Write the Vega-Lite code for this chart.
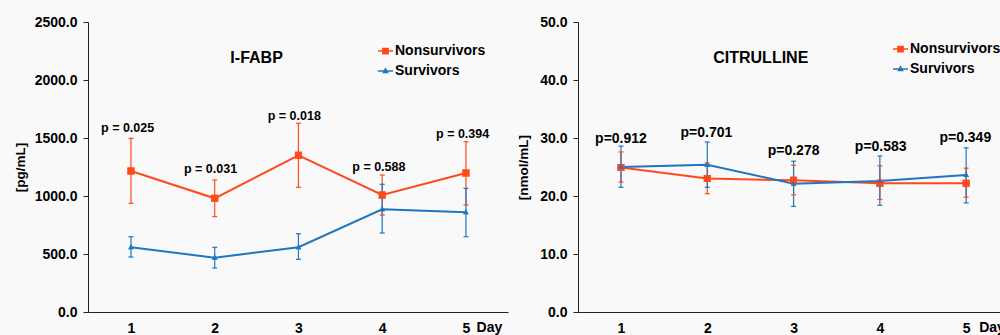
{
  "$schema": "https://vega.github.io/schema/vega-lite/v6.json",
  "background": "#f9f9f9",
  "padding": {"left": 13, "top": 15, "right": 0, "bottom": 0},
  "spacing": 8,
  "config": {
    "view": {"stroke": null},
    "font": "Liberation Sans",
    "axis": {
      "grid": false,
      "labelFont": "Liberation Sans",
      "labelFontWeight": "bold",
      "labelFontSize": 14,
      "labelColor": "#000000",
      "domainColor": "#222222",
      "tickColor": "#222222",
      "titleFont": "Liberation Sans",
      "titleFontWeight": "bold",
      "titleFontSize": 13.5,
      "titleColor": "#000000"
    },
    "legend": {
      "labelFont": "Liberation Sans",
      "labelFontWeight": "bold",
      "labelFontSize": 14,
      "labelColor": "#000000"
    }
  },
  "datasets": {
    "fabp": [
      {"day": 1, "group": "Nonsurvivors", "mean": 1215, "lo": 937, "hi": 1497},
      {"day": 2, "group": "Nonsurvivors", "mean": 980, "lo": 822, "hi": 1138},
      {"day": 3, "group": "Nonsurvivors", "mean": 1351, "lo": 1075, "hi": 1627},
      {"day": 4, "group": "Nonsurvivors", "mean": 1009, "lo": 836, "hi": 1181},
      {"day": 5, "group": "Nonsurvivors", "mean": 1198, "lo": 922, "hi": 1468},
      {"day": 1, "group": "Survivors", "mean": 558, "lo": 474, "hi": 649},
      {"day": 2, "group": "Survivors", "mean": 468, "lo": 379, "hi": 558},
      {"day": 3, "group": "Survivors", "mean": 558, "lo": 454, "hi": 675},
      {"day": 4, "group": "Survivors", "mean": 885, "lo": 681, "hi": 1101},
      {"day": 5, "group": "Survivors", "mean": 859, "lo": 649, "hi": 1066}
    ],
    "cit": [
      {"day": 1, "group": "Nonsurvivors", "mean": 24.9, "lo": 22.4, "hi": 27.6},
      {"day": 2, "group": "Nonsurvivors", "mean": 23.0, "lo": 20.4, "hi": 25.7},
      {"day": 3, "group": "Nonsurvivors", "mean": 22.7, "lo": 20.2, "hi": 25.3},
      {"day": 4, "group": "Nonsurvivors", "mean": 22.2, "lo": 19.4, "hi": 25.2},
      {"day": 5, "group": "Nonsurvivors", "mean": 22.2, "lo": 19.8, "hi": 24.8},
      {"day": 1, "group": "Survivors", "mean": 25.0, "lo": 21.5, "hi": 28.6},
      {"day": 2, "group": "Survivors", "mean": 25.4, "lo": 21.5, "hi": 29.3},
      {"day": 3, "group": "Survivors", "mean": 22.1, "lo": 18.2, "hi": 26.0},
      {"day": 4, "group": "Survivors", "mean": 22.6, "lo": 18.4, "hi": 26.9},
      {"day": 5, "group": "Survivors", "mean": 23.6, "lo": 18.8, "hi": 28.3}
    ],
    "fabp_p": [
      {"day": 0.96, "pos": 1586, "p": "p = 0.025"},
      {"day": 1.95, "pos": 1232, "p": "p = 0.031"},
      {"day": 2.95, "pos": 1689, "p": "p = 0.018"},
      {"day": 3.96, "pos": 1253, "p": "p = 0.588"},
      {"day": 4.96, "pos": 1534, "p": "p = 0.394"}
    ],
    "cit_p": [
      {"day": 1.0, "pos": 29.9, "p": "p=0.912"},
      {"day": 1.99, "pos": 30.9, "p": "p=0.701"},
      {"day": 3.0, "pos": 27.8, "p": "p=0.278"},
      {"day": 4.01, "pos": 28.4, "p": "p=0.583"},
      {"day": 4.99, "pos": 30.0, "p": "p=0.349"}
    ]
  },
  "resolve": {
    "scale": {"color": "independent", "shape": "independent"},
    "legend": {"color": "independent", "shape": "independent"}
  },
  "hconcat": [
    {
      "width": 420,
      "height": 290,
      "layer": [
        {
          "data": {"name": "fabp"},
          "mark": {"type": "point", "filled": true, "size": 400, "opacity": 1, "strokeWidth": 0},
          "encoding": {
            "x": {"field": "day", "type": "quantitative", "scale": {"domain": [0.487, 5.502], "nice": false, "zero": false},
                  "axis": {"values": [1, 2, 3, 4, 5], "format": "d", "ticks": false, "title": null, "labelPadding": 9}},
            "y": {"field": "mean", "type": "quantitative", "scale": {"domain": [0, 2500], "nice": false},
                  "axis": {"values": [0, 500, 1000, 1500, 2000, 2500], "format": ".1f", "tickSize": 5, "labelPadding": 6, "title": "[pg/mL]", "titleX": -61}},
            "color": {"field": "group", "type": "nominal",
                      "scale": {"domain": ["Nonsurvivors", "Survivors"], "range": ["#FF4A1C", "#1F77C0"]},
                      "legend": {"orient": "none", "legendX": 289, "legendY": 20.5, "title": null, "symbolSize": 225,
                                 "symbolStrokeWidth": 1.5, "labelOffset": 1, "rowPadding": 4, "padding": 0,
                                 "encode": {"symbols": {"update": {"stroke": {"signal": "datum.value === 'Nonsurvivors' ? '#FF4A1C' : '#1F77C0'"}, "strokeWidth": {"value": 1.5}}}}}},
            "shape": {"field": "group", "type": "nominal",
                      "scale": {"domain": ["Nonsurvivors", "Survivors"], "range": ["M-1,0H1M-0.35,-0.35H0.35V0.35H-0.35Z", "M-1,0H1M0,-0.3L0.27,0.2H-0.27Z"]},
                      "legend": {"orient": "none", "legendX": 289, "legendY": 20.5, "title": null, "symbolSize": 225,
                                 "symbolStrokeWidth": 1.5, "labelOffset": 1, "rowPadding": 4, "padding": 0,
                                 "encode": {"symbols": {"update": {"stroke": {"signal": "datum.value === 'Nonsurvivors' ? '#FF4A1C' : '#1F77C0'"}, "strokeWidth": {"value": 1.5}}}}}}
          }
        },
        {
          "data": {"name": "fabp"},
          "mark": {"type": "rule", "strokeWidth": 1.2},
          "encoding": {
            "x": {"field": "day", "type": "quantitative"},
            "y": {"field": "lo", "type": "quantitative", "title": "[pg/mL]"},
            "y2": {"field": "hi"},
            "color": {"field": "group", "type": "nominal", "legend": null}
          }
        },
        {
          "data": {"name": "fabp"},
          "mark": {"type": "tick", "orient": "horizontal", "size": 5, "thickness": 1.2, "opacity": 1},
          "encoding": {
            "x": {"field": "day", "type": "quantitative"},
            "y": {"field": "lo", "type": "quantitative", "title": "[pg/mL]"},
            "color": {"field": "group", "type": "nominal", "legend": null}
          }
        },
        {
          "data": {"name": "fabp"},
          "mark": {"type": "tick", "orient": "horizontal", "size": 5, "thickness": 1.2, "opacity": 1},
          "encoding": {
            "x": {"field": "day", "type": "quantitative"},
            "y": {"field": "hi", "type": "quantitative", "title": "[pg/mL]"},
            "color": {"field": "group", "type": "nominal", "legend": null}
          }
        },
        {
          "data": {"name": "fabp"},
          "mark": {"type": "line", "strokeWidth": 2},
          "encoding": {
            "x": {"field": "day", "type": "quantitative"},
            "y": {"field": "mean", "type": "quantitative", "title": "[pg/mL]"},
            "color": {"field": "group", "type": "nominal", "legend": null}
          }
        },
        {
          "data": {"name": "fabp"},
          "mark": {"type": "point", "filled": true, "size": 400, "opacity": 1, "strokeWidth": 0},
          "encoding": {
            "x": {"field": "day", "type": "quantitative"},
            "y": {"field": "mean", "type": "quantitative", "title": "[pg/mL]"},
            "color": {"field": "group", "type": "nominal", "legend": null},
            "shape": {"field": "group", "type": "nominal", "legend": null}
          }
        },
        {
          "data": {"name": "fabp_p"},
          "mark": {"type": "text", "fontWeight": "bold", "fontSize": 12.5, "font": "Liberation Sans", "color": "#000000", "baseline": "middle", "align": "center"},
          "encoding": {
            "x": {"field": "day", "type": "quantitative"},
            "y": {"field": "pos", "type": "quantitative", "title": "[pg/mL]"},
            "text": {"field": "p"}
          }
        },
        {
          "data": {"values": [{}]},
          "mark": {"type": "text", "fontWeight": "bold", "fontSize": 16, "font": "Liberation Sans", "color": "#000000", "baseline": "middle", "align": "center"},
          "encoding": {
            "x": {"datum": 2.5, "type": "quantitative"},
            "y": {"datum": 2190, "type": "quantitative", "title": "[pg/mL]"},
            "text": {"value": "I-FABP"}
          }
        },
        {
          "data": {"values": [{}]},
          "mark": {"type": "text", "fontWeight": "bold", "fontSize": 14, "font": "Liberation Sans", "color": "#000000", "baseline": "middle", "align": "center", "dy": 16},
          "encoding": {
            "x": {"datum": 5.28, "type": "quantitative"},
            "y": {"datum": 0, "type": "quantitative", "title": "[pg/mL]"},
            "text": {"value": "Day"}
          }
        }
      ]
    },
    {
      "width": 432,
      "height": 290,
      "layer": [
        {
          "data": {"name": "cit"},
          "mark": {"type": "point", "filled": true, "size": 400, "opacity": 1, "strokeWidth": 0},
          "encoding": {
            "x": {"field": "day", "type": "quantitative", "scale": {"domain": [0.502, 5.508], "nice": false, "zero": false},
                  "axis": {"values": [1, 2, 3, 4, 5], "format": "d", "ticks": false, "title": null, "labelPadding": 9}},
            "y": {"field": "mean", "type": "quantitative", "scale": {"domain": [0, 50], "nice": false},
                  "axis": {"values": [0, 10, 20, 30, 40, 50], "format": ".1f", "tickSize": 5, "labelPadding": 6, "title": "[nmol/mL]", "titleX": -48}},
            "color": {"field": "group", "type": "nominal",
                      "scale": {"domain": ["Nonsurvivors", "Survivors"], "range": ["#FF4A1C", "#1F77C0"]},
                      "legend": {"orient": "none", "legendX": 314, "legendY": 18.5, "title": null, "symbolSize": 225,
                                 "symbolStrokeWidth": 1.5, "labelOffset": 1, "rowPadding": 4, "padding": 0,
                                 "encode": {"symbols": {"update": {"stroke": {"signal": "datum.value === 'Nonsurvivors' ? '#FF4A1C' : '#1F77C0'"}, "strokeWidth": {"value": 1.5}}}}}},
            "shape": {"field": "group", "type": "nominal",
                      "scale": {"domain": ["Nonsurvivors", "Survivors"], "range": ["M-1,0H1M-0.35,-0.35H0.35V0.35H-0.35Z", "M-1,0H1M0,-0.3L0.27,0.2H-0.27Z"]},
                      "legend": {"orient": "none", "legendX": 314, "legendY": 18.5, "title": null, "symbolSize": 225,
                                 "symbolStrokeWidth": 1.5, "labelOffset": 1, "rowPadding": 4, "padding": 0,
                                 "encode": {"symbols": {"update": {"stroke": {"signal": "datum.value === 'Nonsurvivors' ? '#FF4A1C' : '#1F77C0'"}, "strokeWidth": {"value": 1.5}}}}}}
          }
        },
        {
          "data": {"name": "cit"},
          "mark": {"type": "rule", "strokeWidth": 1.2},
          "encoding": {
            "x": {"field": "day", "type": "quantitative"},
            "y": {"field": "lo", "type": "quantitative", "title": "[nmol/mL]"},
            "y2": {"field": "hi"},
            "color": {"field": "group", "type": "nominal", "legend": null}
          }
        },
        {
          "data": {"name": "cit"},
          "mark": {"type": "tick", "orient": "horizontal", "size": 5, "thickness": 1.2, "opacity": 1},
          "encoding": {
            "x": {"field": "day", "type": "quantitative"},
            "y": {"field": "lo", "type": "quantitative", "title": "[nmol/mL]"},
            "color": {"field": "group", "type": "nominal", "legend": null}
          }
        },
        {
          "data": {"name": "cit"},
          "mark": {"type": "tick", "orient": "horizontal", "size": 5, "thickness": 1.2, "opacity": 1},
          "encoding": {
            "x": {"field": "day", "type": "quantitative"},
            "y": {"field": "hi", "type": "quantitative", "title": "[nmol/mL]"},
            "color": {"field": "group", "type": "nominal", "legend": null}
          }
        },
        {
          "data": {"name": "cit"},
          "mark": {"type": "line", "strokeWidth": 2},
          "encoding": {
            "x": {"field": "day", "type": "quantitative"},
            "y": {"field": "mean", "type": "quantitative", "title": "[nmol/mL]"},
            "color": {"field": "group", "type": "nominal", "legend": null}
          }
        },
        {
          "data": {"name": "cit"},
          "mark": {"type": "point", "filled": true, "size": 400, "opacity": 1, "strokeWidth": 0},
          "encoding": {
            "x": {"field": "day", "type": "quantitative"},
            "y": {"field": "mean", "type": "quantitative", "title": "[nmol/mL]"},
            "color": {"field": "group", "type": "nominal", "legend": null},
            "shape": {"field": "group", "type": "nominal", "legend": null}
          }
        },
        {
          "data": {"name": "cit_p"},
          "mark": {"type": "text", "fontWeight": "bold", "fontSize": 14, "font": "Liberation Sans", "color": "#000000", "baseline": "middle", "align": "center"},
          "encoding": {
            "x": {"field": "day", "type": "quantitative"},
            "y": {"field": "pos", "type": "quantitative", "title": "[nmol/mL]"},
            "text": {"field": "p"}
          }
        },
        {
          "data": {"values": [{}]},
          "mark": {"type": "text", "fontWeight": "bold", "fontSize": 16, "font": "Liberation Sans", "color": "#000000", "baseline": "middle", "align": "center"},
          "encoding": {
            "x": {"datum": 2.62, "type": "quantitative"},
            "y": {"datum": 43.8, "type": "quantitative", "title": "[nmol/mL]"},
            "text": {"value": "CITRULLINE"}
          }
        },
        {
          "data": {"values": [{}]},
          "mark": {"type": "text", "fontWeight": "bold", "fontSize": 14, "font": "Liberation Sans", "color": "#000000", "baseline": "middle", "align": "center", "dy": 16},
          "encoding": {
            "x": {"datum": 5.3, "type": "quantitative"},
            "y": {"datum": 0, "type": "quantitative", "title": "[nmol/mL]"},
            "text": {"value": "Day"}
          }
        }
      ]
    }
  ]
}
